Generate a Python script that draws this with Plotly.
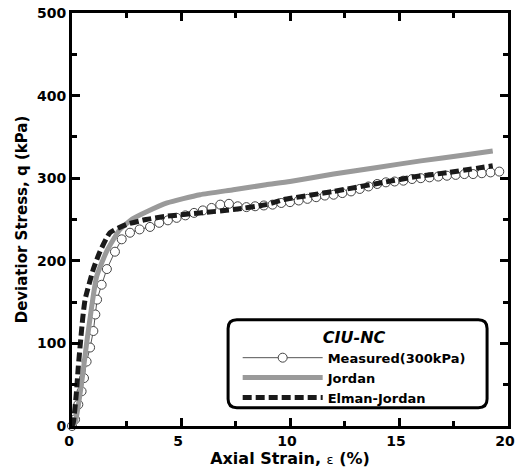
import plotly.graph_objects as go

# Measured (CIU-NC, 300 kPa)
measured_strain = [0.0, 0.14, 0.29, 0.44, 0.55, 0.67, 0.83, 0.98, 1.07, 1.15, 1.36, 1.6, 1.97,
                   2.28, 2.66, 3.1, 3.58, 4.0, 4.4, 4.8, 5.2, 5.6, 6.0, 6.4, 6.8, 7.2, 7.6,
                   8.0, 8.4, 8.8, 9.2, 9.6, 10.0, 10.4, 10.8, 11.2, 11.6, 12.0, 12.4, 12.8,
                   13.2, 13.6, 14.0, 14.4, 14.8, 15.2, 15.6, 16.0, 16.4, 16.8, 17.2, 17.6,
                   18.0, 18.4, 18.8, 19.2, 19.6]
measured_q = [0, 8, 26, 42, 58, 78, 95, 115, 135, 153, 171, 190, 211,
              226, 234, 238, 241, 246, 249, 252, 255, 258, 261, 264, 268, 269, 266,
              265, 266, 267, 268, 270, 271, 273, 275, 277, 279, 280, 282, 284,
              287, 290, 293, 295, 296, 297, 299, 300, 301, 302, 303, 304,
              305, 305, 306, 307, 308]

# Jordan network prediction
jordan_strain = [0.0, 0.14, 0.44, 0.67, 0.9, 1.13, 1.6, 2.2, 2.8, 3.4, 4.36, 5.87,
                 7.4, 8.9, 10.0, 12.0, 14.0, 16.0, 18.0, 19.3]
jordan_q = [0, 4, 52, 100, 144, 181, 212, 238, 251, 259, 270, 280,
            286, 292, 296, 305, 313, 321, 328, 333]

# Elman-Jordan network prediction
ej_strain = [0.0, 0.06, 0.2, 0.29, 0.4, 0.49, 0.6, 0.98, 1.28, 1.74, 2.5, 3.4, 4.36,
             5.87, 7.4, 8.9, 9.7, 12.0, 14.3, 15.8, 17.3, 19.3]
ej_q = [0, 4, 40, 72, 105, 130, 153, 190, 211, 234, 244, 250, 254,
        258, 262, 268, 274, 284, 295, 302, 307, 315]

legend_title = "CIU-NC"
names = ["Measured(300kPa)", "Jordan", "Elman-Jordan"]

FONT = "DejaVu Sans, Arial, sans-serif"

fig = go.Figure()
fig.add_trace(go.Scatter(
    x=measured_strain, y=measured_q, name=names[0], mode="lines+markers",
    line=dict(color="#555555", width=1),
    marker=dict(symbol="circle", size=9, color="white", line=dict(color="#444444", width=1)),
    cliponaxis=False,
))
fig.add_trace(go.Scatter(
    x=jordan_strain, y=jordan_q, name=names[1], mode="lines",
    line=dict(color="#9a9a9a", width=5, shape="spline", smoothing=0.5),
))
fig.add_trace(go.Scatter(
    x=ej_strain, y=ej_q, name=names[2], mode="lines",
    line=dict(color="#1a1a1a", width=5, dash="9px,4px", shape="spline", smoothing=0.5),
))

axis_common = dict(
    showline=True, linewidth=3, linecolor="black", mirror="ticks",
    ticks="inside", ticklen=8, tickwidth=3, tickcolor="black",
    showgrid=False, zeroline=False, automargin=False, ticklabeloverflow="allow",
    tickfont=dict(family=FONT, size=14, color="black", weight="bold"),
)

fig.update_xaxes(range=[0, 20], dtick=5, ticklabelshift=-3,
                 minor=dict(dtick=2.5, ticks="inside", ticklen=5, tickwidth=3, tickcolor="black"),
                 title=dict(text="Axial Strain, <span style='font-weight:normal;font-size:13px'>ε</span> (%)",
                            font=dict(family=FONT, size=16, color="black", weight="bold"), standoff=4),
                 **axis_common)
fig.update_yaxes(range=[0, 500], dtick=100,
                 minor=dict(dtick=50, ticks="inside", ticklen=5, tickwidth=3, tickcolor="black"),
                 title=dict(text="Deviatior Stress, q (kPa)",
                            font=dict(family=FONT, size=15, color="black", weight="bold"), standoff=6),
                 **axis_common)

# rounded legend frame
x0, x1, y0, y1, r = 0.358, 0.952, 0.044, 0.257, 0.02
ry = r * 436 / 413
path = (f"M {x0 + r},{y0} L {x1 - r},{y0} Q {x1},{y0} {x1},{y0 + ry} "
        f"L {x1},{y1 - ry} Q {x1},{y1} {x1 - r},{y1} L {x0 + r},{y1} "
        f"Q {x0},{y1} {x0},{y1 - ry} L {x0},{y0 + ry} Q {x0},{y0} {x0 + r},{y0} Z")
fig.add_shape(type="path", path=path, xref="paper", yref="paper",
              line=dict(color="black", width=3), fillcolor="white", layer="below")

fig.update_layout(
    width=515, height=473,
    margin=dict(l=72, r=7, t=13, b=47, autoexpand=False),
    paper_bgcolor="white", plot_bgcolor="rgba(0,0,0,0)",
    showlegend=True,
    legend=dict(
        x=0.38, y=0.252, xanchor="left", yanchor="top",
        bgcolor="rgba(0,0,0,0)", borderwidth=0,
        font=dict(family=FONT, size=13, color="black", weight="bold"),
        title=dict(text=legend_title, side="top center",
                   font=dict(family=FONT, size=16, color="black", weight="bold", style="italic")),
        itemwidth=80, tracegroupgap=0,
    ),
)

fig.write_html("out.html")
